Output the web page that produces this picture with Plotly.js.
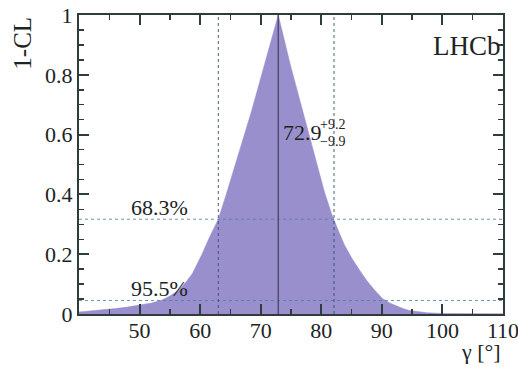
<!DOCTYPE html>
<html>
<head>
<meta charset="utf-8">
<script src="https://cdn.plot.ly/plotly-3.0.1.min.js"></script>
<style>html,body{margin:0;padding:0;background:#fff;}#chart{width:518px;height:369px;}</style>
</head>
<body>
<div id="chart"></div>
<script>
// 1-CL scan over gamma (degrees)
const gamma = [40, 42, 44, 46, 48, 50, 52, 53.7, 55, 56.5, 57.6, 58.7, 59.6, 60.3, 61.5, 63.0, 64.3, 65.7, 67.1, 68.5, 70.6, 72.9,
               74.9, 76.9, 78.2, 79.4, 80.5, 81.7, 82.1, 82.9, 83.8, 85, 86.3, 87.5, 88.8, 90.1, 91.2, 92.4, 93.5, 94.5, 96, 97.5, 100, 105, 110];
const oneMinusCL = [0.007, 0.010, 0.014, 0.018, 0.023, 0.029, 0.037, 0.047, 0.060, 0.080, 0.105, 0.135, 0.170, 0.200, 0.255, 0.317, 0.40, 0.493, 0.585, 0.68, 0.833, 1.0,
                    0.833, 0.68, 0.585, 0.49, 0.41, 0.335, 0.317, 0.275, 0.232, 0.188, 0.147, 0.112, 0.08, 0.052, 0.038, 0.027, 0.018, 0.012, 0.007, 0.004, 0.002, 0.001, 0.0005];
const central = 72.9;
const errPlus = 9.2;
const errMinus = 9.9;
const clLevels = [0.683, 0.955];
const clLabels = ["68.3%", "95.5%"];
const xTicks = [50, 60, 70, 80, 90, 100, 110];
const yTicks = [0, 0.2, 0.4, 0.6, 0.8, 1];
const yTickText = ["0", "0.2", "0.4", "0.6", "0.8", "1"];

const serif = "Liberation Serif, Times New Roman, serif";
const ink = "#1c2424";
const axisCol = "#2e3c3c";

const trace = {
  x: gamma, y: oneMinusCL, type: "scatter", mode: "lines",
  fill: "tozeroy", fillcolor: "#998fcc",
  line: {color: "#998fcc", width: 0.5}, hoverinfo: "skip"
};

const shapes = [];
clLevels.forEach(cl => {
  shapes.push({type: "line", xref: "x", yref: "y", x0: 40, x1: 110, y0: 1 - cl, y1: 1 - cl,
               line: {color: "rgba(80,130,160,0.85)", width: 1, dash: "dot"}});
});
[central - errMinus, central + errPlus].forEach(v => {
  shapes.push({type: "line", xref: "x", yref: "y", x0: v, x1: v, y0: 0, y1: 1,
               line: {color: "rgba(50,80,110,0.9)", width: 1, dash: "dot"}});
});
shapes.push({type: "line", xref: "x", yref: "y", x0: central, x1: central, y0: 0, y1: 1,
             line: {color: "#4a5070", width: 1.5}});

const annotations = [
  {text: "LHCb", xref: "paper", yref: "paper", x: 0.915, y: 0.897, xanchor: "center", yanchor: "middle",
   showarrow: false, font: {family: serif, size: 27, color: ink}},
  {text: central.toFixed(1), xref: "x", yref: "y", x: 73.3, y: 0.607, xanchor: "left", yanchor: "middle",
   showarrow: false, font: {family: serif, size: 22, color: ink}},
  {text: "+" + errPlus.toFixed(1), xref: "x", yref: "y", x: 79.5, y: 0.635, xanchor: "left", yanchor: "middle",
   showarrow: false, font: {family: serif, size: 14, color: ink}},
  {text: "\u2212" + errMinus.toFixed(1), xref: "x", yref: "y", x: 79.5, y: 0.578, xanchor: "left", yanchor: "middle",
   showarrow: false, font: {family: serif, size: 14, color: ink}},
  {text: clLabels[0], xref: "x", yref: "y", x: 53.3, y: 0.355, xanchor: "center", yanchor: "middle",
   showarrow: false, font: {family: serif, size: 22, color: ink}},
  {text: clLabels[1], xref: "x", yref: "y", x: 53.3, y: 0.084, xanchor: "center", yanchor: "middle",
   showarrow: false, font: {family: serif, size: 22, color: ink}},
  {text: "1-CL", xref: "paper", yref: "paper", x: -0.134, y: 1.0, xanchor: "center", yanchor: "top",
   textangle: -90, showarrow: false, font: {family: serif, size: 25, color: ink}},
  {text: "\u03b3 [\u00b0]", xref: "paper", yref: "paper", x: 1.0, y: -0.174, xanchor: "right", yanchor: "bottom",
   showarrow: false, font: {family: serif, size: 22, color: ink}}
];

const layout = {
  width: 518, height: 369,
  margin: {l: 79, r: 15, t: 15, b: 55},
  paper_bgcolor: "#ffffff", plot_bgcolor: "#ffffff",
  showlegend: false,
  xaxis: {
    range: [40, 110], tickvals: xTicks, ticktext: xTicks.map(String),
    ticks: "inside", ticklen: 10, tickwidth: 2, tickcolor: axisCol,
    minor: {dtick: 5, tick0: 40, ticks: "inside", ticklen: 5, tickwidth: 1.5, tickcolor: axisCol},
    showline: true, linecolor: axisCol, linewidth: 2, mirror: "ticks",
    showgrid: false, zeroline: false, ticklabeloverflow: "allow", ticklabelstandoff: -4,
    tickfont: {family: serif, size: 22, color: ink}
  },
  yaxis: {
    range: [0, 1], tickvals: yTicks, ticktext: yTickText,
    ticks: "inside", ticklen: 10, tickwidth: 2, tickcolor: axisCol,
    minor: {dtick: 0.05, tick0: 0, ticks: "inside", ticklen: 5, tickwidth: 1.5, tickcolor: axisCol},
    showline: true, linecolor: axisCol, linewidth: 2, mirror: "ticks",
    showgrid: false, zeroline: false,
    tickfont: {family: serif, size: 22, color: ink}
  },
  shapes: shapes,
  annotations: annotations
};

Plotly.newPlot("chart", [trace], layout, {staticPlot: true, displayModeBar: false});
</script>
</body>
</html>
